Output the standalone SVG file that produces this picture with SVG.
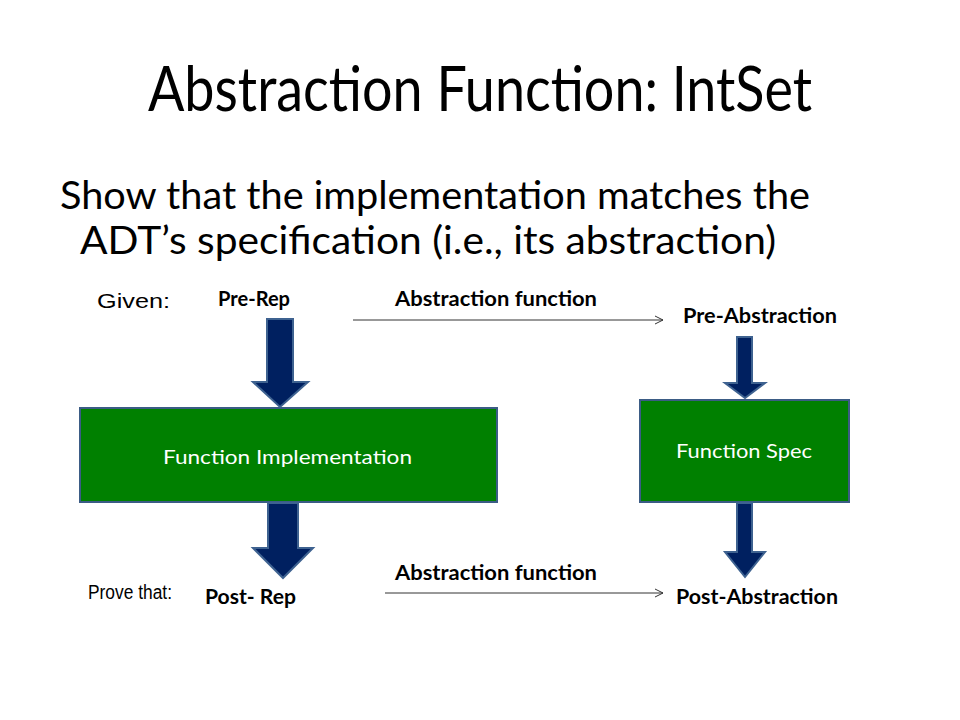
<svg xmlns="http://www.w3.org/2000/svg" width="960" height="720" viewBox="0 0 960 720">
<style>
.cal{font-family:Lato,"Open Sans","DejaVu Sans",sans-serif;fill:#000}
.ari{font-family:"Liberation Sans",Arial,sans-serif;fill:#000;font-size:20px}
.lbl{font-family:Lato,"Open Sans",sans-serif;font-weight:bold;font-size:20px;fill:#000}
.box{fill:#008000;stroke:#3B5C85;stroke-width:2}
.boxt{font-family:Lato,"Open Sans",sans-serif;font-size:20px;fill:#fff}
.big{fill:#002060;stroke:#3E6290;stroke-width:2}
.thin{stroke:#333;stroke-width:1;fill:none}
</style>
<defs>
<marker id="open" markerWidth="10" markerHeight="10" refX="9" refY="5" orient="auto" markerUnits="userSpaceOnUse">
<path d="M1,1 L9,5 L1,9" fill="none" stroke="#333" stroke-width="1"/>
</marker>
</defs>
<text class="cal" x="148" y="111" font-size="62" textLength="664" lengthAdjust="spacingAndGlyphs">Abstraction Function: IntSet</text>
<text class="cal" x="60" y="209" font-size="39" textLength="750" lengthAdjust="spacingAndGlyphs">Show that the implementation matches the</text>
<text class="cal" x="80" y="254" font-size="39" textLength="696" lengthAdjust="spacingAndGlyphs">ADT’s specification (i.e., its abstraction)</text>

<g id="given"><text class="ari" x="97" y="308" textLength="73" lengthAdjust="spacingAndGlyphs">Given:</text></g>
<g id="prove"><text class="ari" x="88" y="599" textLength="84" lengthAdjust="spacingAndGlyphs">Prove that:</text></g>
<g id="pre-rep"><text class="lbl" x="218" y="306" textLength="72" lengthAdjust="spacingAndGlyphs">Pre-Rep</text></g>
<g id="pre-abs"><text class="lbl" x="683" y="323" textLength="154" lengthAdjust="spacingAndGlyphs">Pre-Abstraction</text></g>
<g id="post-rep"><text class="lbl" x="205" y="604" textLength="91" lengthAdjust="spacingAndGlyphs">Post- Rep</text></g>
<g id="post-abs"><text class="lbl" x="676" y="604" textLength="162" lengthAdjust="spacingAndGlyphs">Post-Abstraction</text></g>

<g id="impl">
<rect class="box" x="80" y="408" width="417" height="94"/>
<text class="boxt" x="163" y="464" textLength="249" lengthAdjust="spacingAndGlyphs">Function Implementation</text>
</g>
<g id="spec">
<rect class="box" x="640" y="400" width="209" height="102"/>
<text class="boxt" x="676" y="458" textLength="136" lengthAdjust="spacingAndGlyphs">Function Spec</text>
</g>

<g id="connectors">
<path class="big" d="M267,319 L293,319 L293,382 L308,382 L280,407 L253,382 L267,382 Z"/>
<path class="big" d="M737,337 L752,337 L752,383 L765,383 L745,398 L725,383 L737,383 Z"/>
<path class="big" d="M268,503 L298,503 L298,548 L313,548 L283,578 L253,548 L268,548 Z"/>
<path class="big" d="M737,503 L752,503 L752,552 L765,552 L745,577 L725,552 L737,552 Z"/>
<line class="thin" x1="353" y1="320" x2="663" y2="320" marker-end="url(#open)"/>
<line class="thin" x1="385" y1="593" x2="663" y2="593" marker-end="url(#open)"/>
<text class="lbl" x="395" y="306" textLength="202" lengthAdjust="spacingAndGlyphs">Abstraction function</text>
<text class="lbl" x="395" y="580" textLength="202" lengthAdjust="spacingAndGlyphs">Abstraction function</text>
</g>
</svg>
